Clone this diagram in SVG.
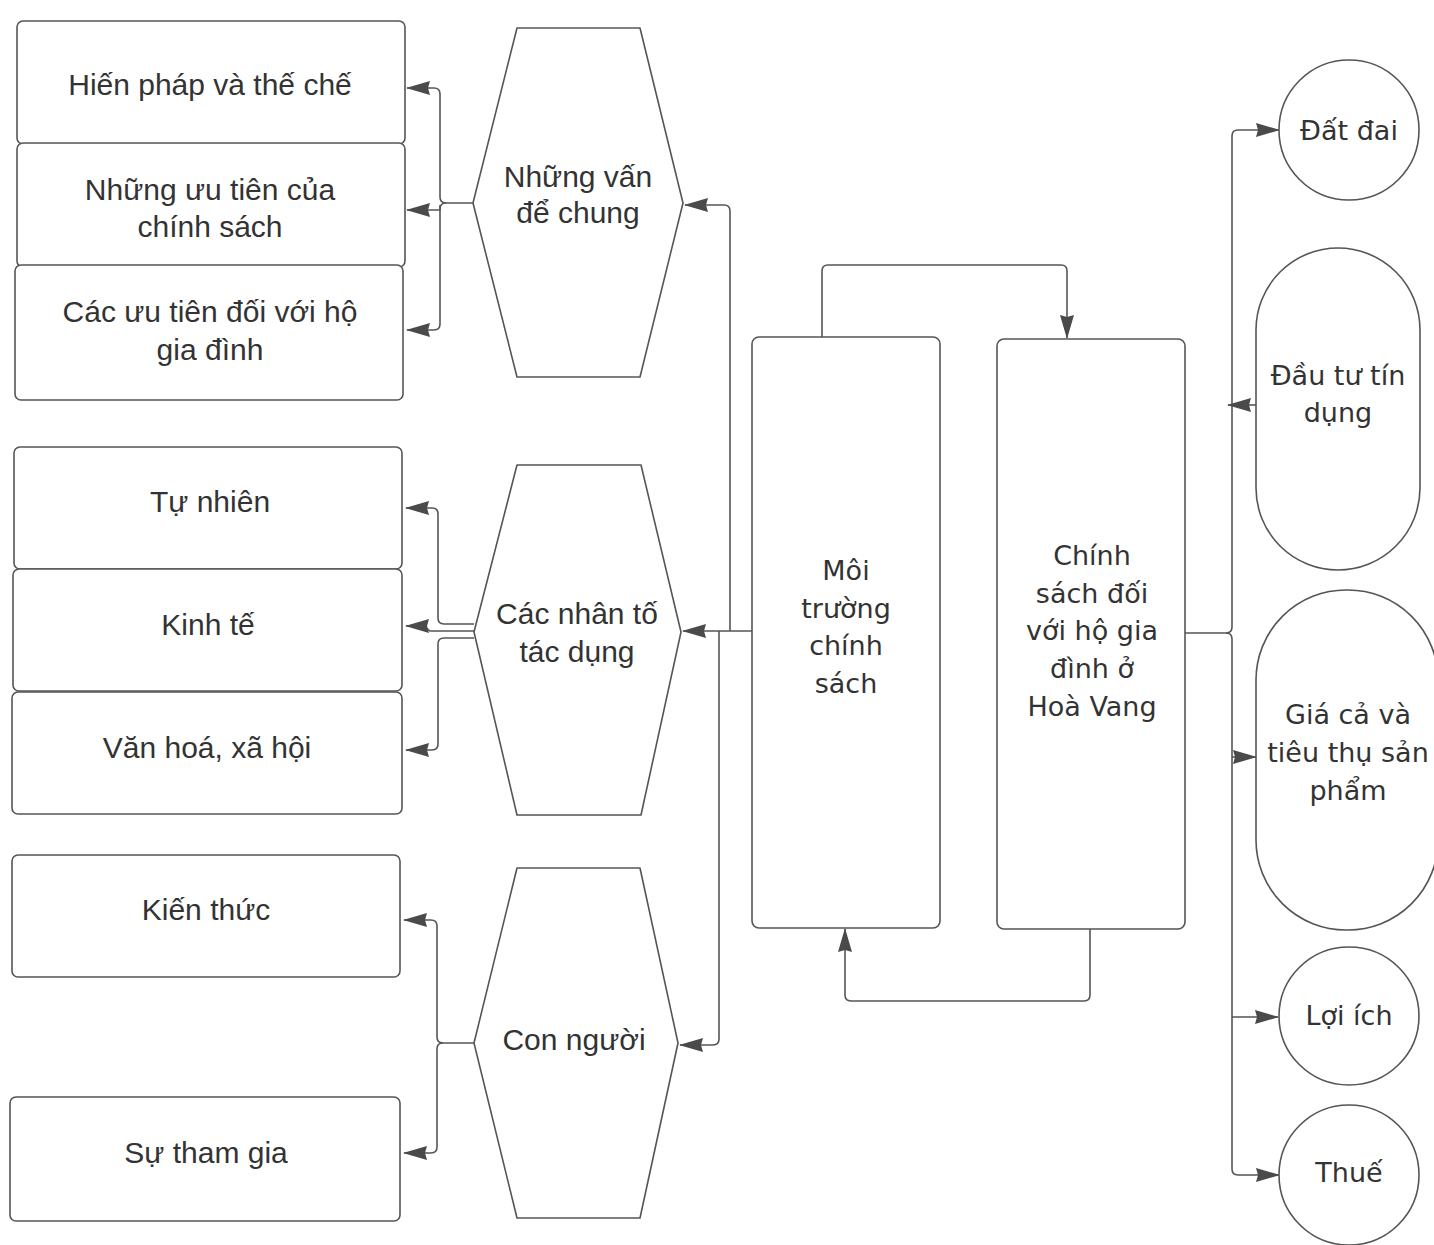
<svg xmlns="http://www.w3.org/2000/svg" width="1434" height="1245" viewBox="0 0 1434 1245">
<style>
.box{fill:#fff;stroke:#555;stroke-width:1.6}
.ln{fill:none;stroke:#555;stroke-width:1.6}
.t1{font-family:"Liberation Sans",Arial,sans-serif;font-size:30px;fill:#333;text-anchor:middle}
.t2{font-family:"DejaVu Sans",Verdana,sans-serif;font-size:27px;fill:#333;text-anchor:middle}
</style>
<defs>
<marker id="ar" viewBox="0 0 24 16" refX="23" refY="8" markerWidth="24" markerHeight="16" markerUnits="userSpaceOnUse" orient="auto">
<path d="M0,1 L24,8 L0,15 L2,8 z" fill="#4a4a4a"/>
</marker>
</defs>
<rect width="1434" height="1245" fill="#fff"/>

<g id="connectors">
<path class="ln" d="M473,203 H446 Q440,203 440,197 V94 Q440,88 434,88 H407" marker-end="url(#ar)"/>
<path class="ln" d="M446,203 Q440,203 440,209 V210 H407" marker-end="url(#ar)"/>
<path class="ln" d="M440,205 V324 Q440,330 434,330 H407" marker-end="url(#ar)"/>

<path class="ln" d="M474,624 H444 Q438,624 438,618 V514 Q438,508 432,508 H406" marker-end="url(#ar)"/>
<path class="ln" d="M474,631 H430 L424,626 H406" marker-end="url(#ar)"/>
<path class="ln" d="M474,638 H444 Q438,638 438,644 V744 Q438,750 432,750 H406" marker-end="url(#ar)"/>

<path class="ln" d="M474,1043 H443 Q437,1043 437,1037 V926 Q437,920 431,920 H404" marker-end="url(#ar)"/>
<path class="ln" d="M443,1043 Q437,1043 437,1049 V1147 Q437,1153 431,1153 H404" marker-end="url(#ar)"/>

<path class="ln" d="M752,631 H683" marker-end="url(#ar)"/>
<path class="ln" d="M730,631 V211 Q730,205 724,205 H685" marker-end="url(#ar)"/>
<path class="ln" d="M719,631 V1039 Q719,1045 713,1045 H680" marker-end="url(#ar)"/>

<path class="ln" d="M822,337 V271 Q822,265 828,265 H1061 Q1067,265 1067,271 V338" marker-end="url(#ar)"/>
<path class="ln" d="M1090,929 V995 Q1090,1001 1084,1001 H851 Q845,1001 845,995 V929" marker-end="url(#ar)"/>

<path class="ln" d="M1185,633 H1226 Q1232,633 1232,627 V136 Q1232,130 1238,130 H1279" marker-end="url(#ar)"/>
<path class="ln" d="M1226,633 Q1232,633 1232,639 V1169 Q1232,1175 1238,1175 H1279" marker-end="url(#ar)"/>
<path class="ln" d="M1232,1017 H1278" marker-end="url(#ar)"/>
<path class="ln" d="M1232,757 H1256" marker-end="url(#ar)"/>
<path class="ln" d="M1256,405 H1228" marker-end="url(#ar)"/>
</g>

<g id="n-hienphap"><rect class="box" x="17" y="21" width="388" height="123" rx="6"/><text class="t1" x="210" y="95">Hiến pháp và thế chế</text></g>
<g id="n-uutien-cs"><rect class="box" x="17" y="143" width="388" height="124" rx="6"/><text class="t1" x="210" y="200">Những ưu tiên của</text><text class="t1" x="210" y="237">chính sách</text></g>
<g id="n-uutien-hgd"><rect class="box" x="15" y="265" width="388" height="135" rx="6"/><text class="t1" x="210" y="322">Các ưu tiên đối với hộ</text><text class="t1" x="210" y="360">gia đình</text></g>

<g id="n-tunhien"><rect class="box" x="14" y="447" width="388" height="122" rx="6"/><text class="t1" x="210" y="512">Tự nhiên</text></g>
<g id="n-kinhte"><rect class="box" x="13" y="569" width="389" height="122" rx="6"/><text class="t1" x="208" y="635">Kinh tế</text></g>
<g id="n-vanhoa"><rect class="box" x="12" y="692" width="390" height="122" rx="6"/><text class="t1" x="207" y="758">Văn hoá, xã hội</text></g>

<g id="n-kienthuc"><rect class="box" x="12" y="855" width="388" height="122" rx="6"/><text class="t1" x="206" y="920">Kiến thức</text></g>
<g id="n-thamgia"><rect class="box" x="10" y="1097" width="390" height="124" rx="6"/><text class="t1" x="206" y="1163">Sự tham gia</text></g>

<g id="h-vande"><path class="box" d="M517,28 H640 L683,203 L640,377 H517 L473,203 Z" stroke-linejoin="round"/><text class="t1" x="578" y="187">Những vấn</text><text class="t1" x="578" y="223">để chung</text></g>
<g id="h-nhanto"><path class="box" d="M517,465 H641 L681,632 L641,815 H517 L474,632 Z" stroke-linejoin="round"/><text class="t1" x="577" y="624">Các nhân tố</text><text class="t1" x="577" y="662">tác dụng</text></g>
<g id="h-connguoi"><path class="box" d="M517,868 H640 L678,1043 L640,1218 H517 L474,1043 Z" stroke-linejoin="round"/><text class="t1" x="574" y="1050">Con người</text></g>

<g id="n-moitruong"><rect class="box" x="752" y="337" width="188" height="591" rx="7"/>
<text class="t2" x="846" y="580">Môi</text><text class="t2" x="846" y="618">trường</text><text class="t2" x="846" y="655">chính</text><text class="t2" x="846" y="693">sách</text></g>
<g id="n-chinhsach"><rect class="box" x="997" y="339" width="188" height="590" rx="7"/>
<text class="t2" x="1092" y="565">Chính</text><text class="t2" x="1092" y="603">sách đối</text><text class="t2" x="1092" y="640">với hộ gia</text><text class="t2" x="1092" y="678">đình ở</text><text class="t2" x="1092" y="716">Hoà Vang</text></g>

<g id="e-datdai"><ellipse class="box" cx="1349" cy="130" rx="70" ry="70"/><text class="t2" x="1349" y="140">Đất đai</text></g>
<g id="e-dautu"><rect class="box" x="1256" y="248" width="164" height="322" rx="82"/><text class="t2" x="1338" y="385">Đầu tư tín</text><text class="t2" x="1338" y="422">dụng</text></g>
<g id="e-giaca"><rect class="box" x="1256" y="590" width="182" height="340" rx="90"/><text class="t2" x="1348" y="724">Giá cả và</text><text class="t2" x="1348" y="762">tiêu thụ sản</text><text class="t2" x="1348" y="800">phẩm</text></g>
<g id="e-loiich"><ellipse class="box" cx="1349" cy="1016" rx="70" ry="69"/><text class="t2" x="1349" y="1025">Lợi ích</text></g>
<g id="e-thue"><ellipse class="box" cx="1349" cy="1175" rx="70" ry="70"/><text class="t2" x="1349" y="1182">Thuế</text></g>
</svg>
